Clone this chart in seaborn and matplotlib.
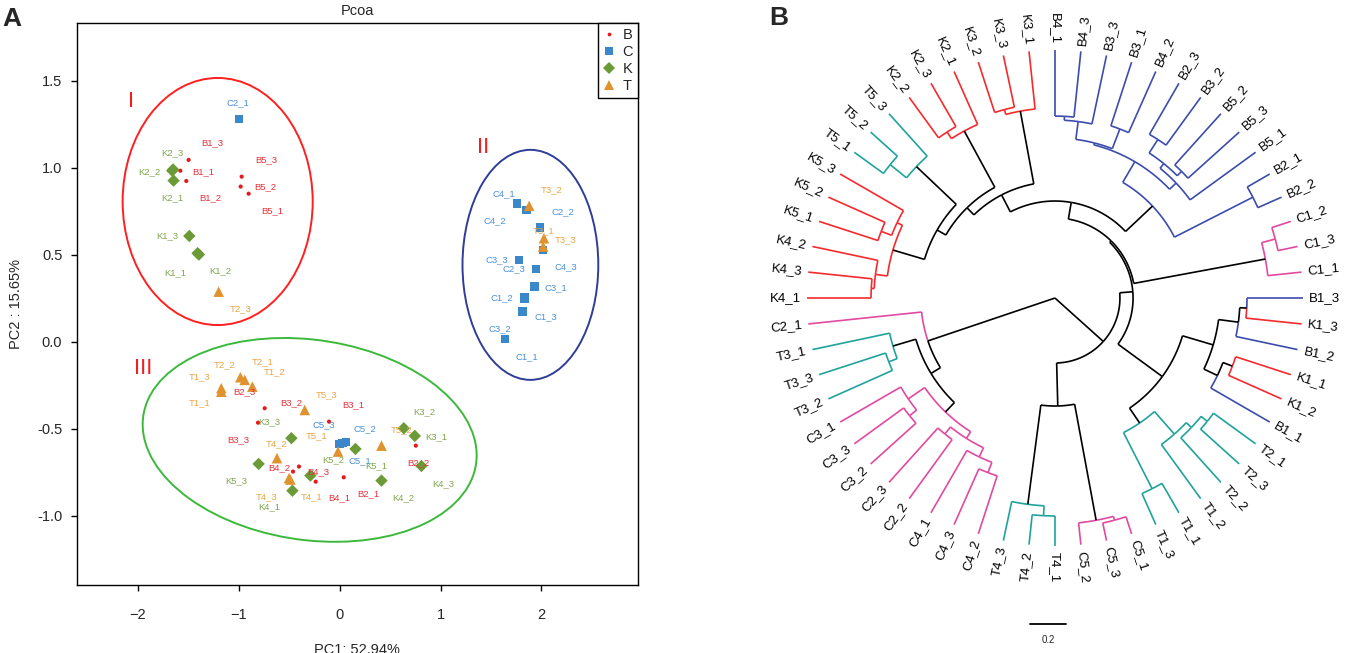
import numpy as np
import pandas as pd
import matplotlib
matplotlib.use("Agg")
import matplotlib.pyplot as plt
from matplotlib.lines import Line2D
from matplotlib.patches import Ellipse
from matplotlib.ticker import FormatStrFormatter
import seaborn as sns

sns.set_style("white")
plt.rcParams['font.family'] = ['Liberation Sans', 'DejaVu Sans']

# ---------------- panel A : PCoA scores ----------------
sample_names = ["B1_1", "B1_2", "B1_3", "B2_1", "B2_2", "B2_3", "B3_1", "B3_2", "B3_3",
                "B4_1", "B4_2", "B4_3", "B5_1", "B5_2", "B5_3",
                "C1_1", "C1_2", "C1_3", "C2_1", "C2_2", "C2_3", "C3_1", "C3_2", "C3_3",
                "C4_1", "C4_2", "C4_3", "C5_1", "C5_2", "C5_3",
                "K1_1", "K1_2", "K1_3", "K2_1", "K2_2", "K2_3", "K3_1", "K3_2", "K3_3",
                "K4_1", "K4_2", "K4_3", "K5_1", "K5_2", "K5_3",
                "T1_1", "T1_2", "T1_3", "T2_1", "T2_2", "T2_3", "T3_1", "T3_2", "T3_3",
                "T4_1", "T4_2", "T4_3", "T5_1", "T5_2", "T5_3"]
pc1 = [-1.580, -1.521, -1.498, 0.040, 0.754, -0.860, -0.106, -0.744, -0.810,
       -0.238, -0.404, -0.463, -0.903, -0.982, -0.972,
       1.829, 1.829, 1.812, -0.999, 1.984, 2.017, 1.928, 1.637, 1.776,
       1.759, 1.852, 1.944, 0.030, 0.060, 0.000,
       -1.409, -1.396, -1.491, -1.647, -1.660, -1.652, 0.744, 0.635, -0.479,
       -0.469, 0.414, 0.810, 0.156, -0.291, -0.804,
       -1.174, -0.866, -1.174, -0.942, -0.985, -1.200, 2.024, 1.878, 2.017,
       -0.489, -0.622, -0.503, -0.017, 0.414, -0.347]
pc2 = [0.984, 0.925, 1.046, -0.778, -0.596, -0.276, -0.458, -0.381, -0.464,
       -0.803, -0.716, -0.745, 0.852, 0.893, 0.950,
       0.247, 0.255, 0.174, 1.282, 0.659, 0.529, 0.318, 0.016, 0.471,
       0.797, 0.759, 0.420, -0.580, -0.576, -0.586,
       0.510, 0.502, 0.609, 0.927, 0.984, 0.991, -0.540, -0.496, -0.553,
       -0.855, -0.797, -0.713, -0.615, -0.768, -0.701,
       -0.286, -0.257, -0.266, -0.218, -0.203, 0.289, 0.596, 0.782, 0.548,
       -0.791, -0.668, -0.783, -0.630, -0.596, -0.391]
# where each sample name is written
label_x = [-1.349, -1.280, -1.260, 0.281, 0.777, -0.942, 0.132, -0.479, -1.009,
           0.000, -0.602, -0.215, -0.665, -0.734, -0.724,
           1.852, 1.610, 2.044, -1.012, 2.209, 1.726, 2.143, 1.587, 1.555,
           1.627, 1.538, 2.239, 0.198, 0.248, -0.159,
           -1.627, -1.181, -1.706, -1.657, -1.885, -1.657, 0.959, 0.843, -0.694,
           -0.694, 0.628, 1.025, 0.364, -0.066, -1.025,
           -1.389, -0.645, -1.389, -0.761, -1.141, -0.982, 2.017, 2.100, 2.242,
           -0.281, -0.628, -0.727, -0.231, 0.612, -0.132]
label_y = [0.977, 0.828, 1.144, -0.874, -0.694, -0.286, -0.362, -0.352, -0.563,
           -0.898, -0.720, -0.745, 0.753, 0.891, 1.046,
           -0.084, 0.253, 0.145, 1.374, 0.749, 0.418, 0.314, 0.075, 0.471,
           0.851, 0.697, 0.433, -0.682, -0.496, -0.477,
           0.397, 0.408, 0.609, 0.828, 0.977, 1.086, -0.544, -0.401, -0.458,
           -0.947, -0.893, -0.812, -0.713, -0.674, -0.797,
           -0.352, -0.171, -0.199, -0.113, -0.132, 0.190, 0.638, 0.874, 0.586,
           -0.889, -0.582, -0.889, -0.540, -0.506, -0.305]

groups = ["B", "C", "K", "T"]
point_colors = {"B": "#E41A1C", "C": "#3A87C9", "K": "#6B9A36", "T": "#E0922F"}
text_colors = {"B": "#E8313A", "C": "#4A90D9", "K": "#7FA64E", "T": "#EBA444"}
group_markers = {"B": "o", "C": "s", "K": "D", "T": "^"}
group_sizes = {"B": 9, "C": 38, "K": 40, "T": 58}

# cluster ellipses: centre x, centre y, width, height, angle
ell_names = ["I", "II", "III"]
ell_cx = [-1.21, 1.89, -0.298]
ell_cy = [0.807, 0.443, -0.563]
ell_w = [1.884, 1.346, 3.316]
ell_h = [1.42, 1.322, 1.156]
ell_ang = [0, 0, -3.5]
ell_colors = ["#FF1F1F", "#2E3D98", "#3CB93C"]
ell_label_x = [-2.073, 1.419, -1.944]
ell_label_y = [1.379, 1.115, -0.155]

pcoa = pd.DataFrame({"sample": sample_names, "PC1": pc1, "PC2": pc2,
                     "lx": label_x, "ly": label_y})
pcoa["group"] = pcoa["sample"].str[0]

fig = plt.figure(figsize=(13.45, 6.53), dpi=100)
ax_a = fig.add_axes([0.0572, 0.1041, 0.4171, 0.8607])

for i in range(len(ell_names)):
    ax_a.add_patch(Ellipse((ell_cx[i], ell_cy[i]), ell_w[i], ell_h[i], angle=ell_ang[i],
                           fill=False, edgecolor=ell_colors[i], lw=1.4, zorder=1))
    ax_a.text(ell_label_x[i], ell_label_y[i], ell_names[i], color="#F02020",
              fontsize=16, ha="center", va="center")

sns.scatterplot(data=pcoa, x="PC1", y="PC2", hue="group", style="group", size="group",
                palette=point_colors, markers=group_markers, sizes=group_sizes,
                linewidth=0, legend=False, ax=ax_a, zorder=2)

for _, row in pcoa.iterrows():
    ax_a.text(row["lx"], row["ly"], row["sample"], color=text_colors[row["group"]],
              fontsize=6.8, ha="center", va="center", zorder=3)

ax_a.set_xlim(-2.605, 2.956)
ax_a.set_ylim(-1.397, 1.833)
ax_a.set_xticks([-2, -1, 0, 1, 2])
ax_a.set_yticks([-1.0, -0.5, 0.0, 0.5, 1.0, 1.5])
ax_a.yaxis.set_major_formatter(FormatStrFormatter("%.1f"))
ax_a.tick_params(direction="out", length=4.5, width=1, labelsize=10.5, color="black",
                 bottom=True, left=True)
ax_a.tick_params(axis="x", pad=12)
ax_a.tick_params(axis="y", pad=6)
for sp in ax_a.spines.values():
    sp.set_color("black")
    sp.set_linewidth(1)
ax_a.set_xlabel("PC1: 52.94%", fontsize=10.5, labelpad=15)
ax_a.set_ylabel("PC2 : 15.65%", fontsize=10.5, labelpad=10)
ax_a.set_title("Pcoa", fontsize=10.5, pad=6)

handles = [Line2D([], [], linestyle="", marker=group_markers[g], color=point_colors[g],
                  markersize=np.sqrt(group_sizes[g]) * 0.9, markeredgewidth=0) for g in groups]
leg = ax_a.legend(handles, groups, loc="upper right", borderaxespad=0, fancybox=False,
                  edgecolor="black", framealpha=1, fontsize=10.5, handlelength=0.8,
                  handletextpad=0.5, labelspacing=0.2, borderpad=0.35)
leg.get_frame().set_linewidth(1)

# ---------------- panel B : circular dendrogram ----------------
leaf_labels = ["K4_1", "K4_3", "K4_2", "K5_1", "K5_2", "K5_3", "T5_1", "T5_2", "T5_3",
               "K2_2", "K2_3", "K2_1", "K3_2", "K3_3", "K3_1",
               "B4_1", "B4_3", "B3_3", "B3_1", "B4_2", "B2_3", "B3_2", "B5_2", "B5_3",
               "B5_1", "B2_1", "B2_2", "C1_2", "C1_3", "C1_1",
               "B1_3", "K1_3", "B1_2", "K1_1", "K1_2", "B1_1",
               "T2_1", "T2_3", "T2_2", "T1_2", "T1_1", "T1_3",
               "C5_1", "C5_3", "C5_2", "T4_1", "T4_2", "T4_3",
               "C4_2", "C4_3", "C4_1", "C2_2", "C2_3", "C3_2", "C3_3", "C3_1",
               "T3_2", "T3_3", "T3_1", "C2_1"]
node_names = ["k4a", "k4", "k5a", "k5", "k45", "t5a", "t5", "nc", "k2a", "k2", "nd",
              "k3a", "k3", "nb", "n1", "n2", "n3", "n4", "n5", "n6", "n7", "n8", "n9",
              "n10", "nbb", "na", "c1a", "c1", "ne", "bka", "bkb", "bkc", "bkd", "bk",
              "ta", "tb", "tc", "td", "t12", "y", "nf", "c5a", "c5", "t4a", "t4",
              "t4c5", "p", "c4a", "c4", "c2", "csub", "c3a", "c3", "cc", "t3a", "t3",
              "w", "q", "root"]
node_left = ["K4_1", "k4a", "K5_1", "k5a", "k4", "T5_1", "t5a", "k45", "K2_2", "k2a", "nc",
             "K3_2", "k3a", "nd", "B4_1", "n1", "B3_1", "n2", "B2_3", "B5_2", "n5", "n7",
             "n4", "B2_1", "n9", "nb", "C1_2", "c1a", "na", "B1_3", "bka", "K1_1", "bkc",
             "bkb", "T2_1", "ta", "tb", "T1_1", "tc", "bk", "ne", "C5_1", "c5a", "T4_1",
             "t4a", "c5", "nf", "C4_2", "c4a", "C2_2", "c4", "C3_2", "c3a", "csub",
             "T3_2", "t3a", "cc", "w", "p"]
node_right = ["K4_3", "K4_2", "K5_2", "K5_3", "k5", "T5_2", "T5_3", "t5", "K2_3", "K2_1",
              "k2", "K3_3", "K3_1", "k3", "B4_3", "B3_3", "B4_2", "n3", "B3_2", "B5_3",
              "n6", "B5_1", "n8", "B2_2", "n10", "nbb", "C1_3", "C1_1", "c1", "K1_3",
              "B1_2", "K1_2", "B1_1", "bkd", "T2_3", "T2_2", "T1_2", "T1_3", "td", "t12",
              "y", "C5_3", "C5_2", "T4_2", "T4_3", "t4", "t4c5", "C4_3", "C4_1", "C2_3",
              "c2", "C3_3", "C3_1", "c3", "T3_3", "T3_1", "t3", "C2_1", "q"]
node_height = [0.356, 0.372, 0.344, 0.406, 0.439, 0.200, 0.317, 0.622, 0.278, 0.322, 0.678,
               0.294, 0.322, 0.733, 0.367, 0.389, 0.372, 0.489, 0.328, 0.383, 0.417, 0.450,
               0.500, 0.144, 0.633, 0.839, 0.111, 0.189, 0.933, 0.311, 0.350, 0.322, 0.378,
               0.461, 0.289, 0.333, 0.372, 0.189, 0.539, 0.639, 0.944, 0.100, 0.122, 0.167,
               0.222, 0.778, 1.017, 0.339, 0.400, 0.406, 0.456, 0.339, 0.389, 0.500,
               0.389, 0.439, 0.572, 0.633, 1.378]
tree_colors = {"B": "#3C4CAD", "C": "#E14AA0", "K": "#F52A2E", "T": "#1FA39C"}
first_leaf_angle = 270.0

kids = {n: (l, r) for n, l, r in zip(node_names, node_left, node_right)}
height = dict(zip(node_names, node_height))
step = 360.0 / len(leaf_labels)
angle = {lab: first_leaf_angle + i * step for i, lab in enumerate(leaf_labels)}
for lab in leaf_labels:
    height[lab] = 0.0
members = {lab: {lab[0]} for lab in leaf_labels}


def place(n):
    if n in angle:
        return angle[n]
    l, r = kids[n]
    angle[n] = 0.5 * (place(l) + place(r))
    members[n] = members[l] | members[r]
    return angle[n]


place("root")
tree_h = height["root"]
rmax = tree_h * 300.0 / 248.0

rect_b = [0.5613, 0.0842, 0.4461, 0.9188]
ax_b = fig.add_axes(rect_b, projection="polar")
ax_b.set_theta_zero_location("N")
ax_b.set_theta_direction(-1)
ax_b.set_ylim(0, rmax)
ax_b.axis("off")

for n in node_names:
    rn = tree_h - height[n]
    pure = len(members[n]) == 1
    for c in kids[n]:
        rc = tree_h - height[c]
        if c in leaf_labels:
            col = tree_colors[c[0]]
        elif pure:
            col = tree_colors[next(iter(members[n]))]
        else:
            col = "black"
        tc = np.deg2rad(angle[c])
        arc = np.deg2rad(np.linspace(angle[n], angle[c], 40))
        ax_b.plot([tc, tc], [rc, rn], color=col, lw=1.2, solid_capstyle="butt")
        ax_b.plot(arc, np.full(arc.size, rn), color=col, lw=1.2, solid_capstyle="butt")

for lab in leaf_labels:
    comp = angle[lab] % 360
    a = (90 - comp) % 360
    if 90 <= a < 270:
        rot, ha = a - 180, "right"
    else:
        rot, ha = a, "left"
    ax_b.text(np.deg2rad(comp), tree_h + 0.035, lab, rotation=rot, ha=ha, va="center",
              rotation_mode="anchor", fontsize=9.5, color="black")

# scale bar
ax_s = fig.add_axes(rect_b)
ax_s.set_xlim(-rmax, rmax)
ax_s.set_ylim(-rmax, rmax)
ax_s.axis("off")
bar_len = 0.2
ax_s.plot([-0.139, -0.139 + bar_len], [-1.81, -1.81], color="black", lw=1.3, clip_on=False)
ax_s.text(-0.139 + bar_len / 2, -1.90, "0.2", fontsize=7, ha="center", va="center")

fig.text(12 / 1345, 1 - 19 / 653, "A", fontsize=19, fontweight="bold", ha="center", va="center")
fig.text(779 / 1345, 1 - 18 / 653, "B", fontsize=19, fontweight="bold", ha="center", va="center")

fig.savefig("out.png", dpi=100)
